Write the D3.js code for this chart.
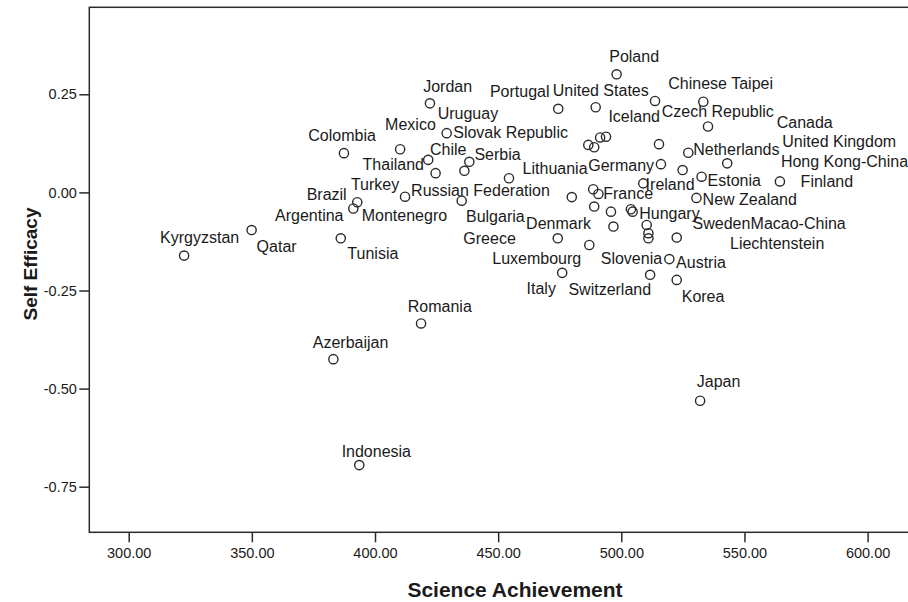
<!DOCTYPE html>
<html>
<head>
<meta charset="utf-8">
<script src="https://cdn.jsdelivr.net/npm/d3@7"></script>
<style>
  html, body { margin: 0; padding: 0; background: #fff; }
  svg { display: block; }
  text { font-family: "Liberation Sans", Arial, sans-serif; fill: #1a1a1a; }
</style>
</head>
<body>
<svg id="chart" width="908" height="602"></svg>
<script>
// ---- data ----
const countries = ["Kyrgyzstan","Qatar","Azerbaijan","Tunisia","Colombia","Brazil","Argentina","Indonesia",
  "Mexico","Montenegro","Romania","Thailand","Jordan","Turkey","Uruguay","Bulgaria","Serbia","Chile",
  "Israel","Greece","Portugal","Italy","Russian Federation","Luxembourg","Norway","Slovak Republic","Spain",
  "Lithuania","United States","Latvia","Iceland","Croatia","France","Denmark","Poland","Sweden","Hungary",
  "Ireland","Belgium","Austria","Macao-China","Switzerland","Czech Republic","United Kingdom","Germany",
  "Slovenia","Korea","Liechtenstein","Netherlands","Australia","New Zealand","Japan","Estonia",
  "Chinese Taipei","Canada","Hong Kong-China","Finland"];
const science = [322.5,349.9,383.1,386.1,387.4,392.8,391.2,393.6,
  410.2,412.2,418.7,421.6,422.3,424.6,429.1,435.2,436.3,438.3,
  454.4,474.2,474.4,476.0,479.9,487.0,486.6,489.0,489.0,
  488.6,489.6,490.7,491.4,493.8,495.8,496.8,498.1,503.9,504.6,
  508.9,510.3,511.0,511.0,511.7,513.7,515.3,516.1,
  519.5,522.5,522.5,524.9,527.2,530.5,532.0,532.6,
  533.3,535.2,543.0,564.4];
const efficacy = [-0.161,-0.096,-0.425,-0.117,0.100,-0.025,-0.041,-0.695,
  0.110,-0.011,-0.334,0.083,0.227,0.049,0.151,-0.021,0.055,0.078,
  0.036,-0.117,0.213,-0.205,-0.012,-0.134,0.121,0.115,-0.036,
  0.008,0.217,-0.004,0.140,0.142,-0.049,-0.087,0.301,-0.043,-0.049,
  0.023,-0.083,-0.104,-0.117,-0.210,0.233,0.123,0.072,
  -0.170,-0.223,-0.115,0.057,0.101,-0.014,-0.531,0.040,
  0.231,0.168,0.074,0.028];
const xTicks = [300, 350, 400, 450, 500, 550, 600];
const yTicks = [0.25, 0.00, -0.25, -0.50, -0.75];
const xTitle = "Science Achievement";
const yTitle = "Self Efficacy";

// ---- layout: label offsets (px) from each labelled point ----
const labelOffsets = {
  "Kyrgyzstan":[-24,-18.4], "Qatar":[5,16.7], "Azerbaijan":[-20.6,-16.6], "Tunisia":[6.6,15],
  "Colombia":[-35.7,-17.3], "Brazil":[-50.6,-8], "Argentina":[-78.3,7.4], "Indonesia":[-17.6,-13.3],
  "Mexico":[-15,-25.3], "Montenegro":[-43.3,18.3], "Romania":[-13.3,-17.3], "Thailand":[-65.6,5],
  "Jordan":[-6.7,-17.3], "Turkey":[-84.7,11.7], "Uruguay":[-9,-20], "Bulgaria":[4.3,16],
  "Serbia":[10,-16.4], "Chile":[-39.3,-12.4], "Greece":[-94.4,0], "Portugal":[-68.3,-17.3],
  "Italy":[-35.6,15.6], "Russian Federation":[-160.7,-6.3], "Luxembourg":[-97,13.3],
  "Slovak Republic":[-141,-14.6], "Lithuania":[-70.6,-21], "United States":[-43,-17.3],
  "Iceland":[8.3,-21.3], "France":[-7.7,-18.4], "Denmark":[-87.3,-2.7], "Poland":[-7.4,-18.3],
  "Sweden":[61.7,14], "Hungary":[6.6,1.6], "Ireland":[2.4,0.7], "Austria":[27.7,29.4],
  "Macao-China":[102.2,-15], "Switzerland":[-81.7,15], "Czech Republic":[6.7,10.5],
  "United Kingdom":[123.3,-2.6], "Germany":[-72.7,1], "Slovenia":[-68.6,-0.3], "Korea":[5,16],
  "Liechtenstein":[53.3,5.6], "Netherlands":[10.6,-21], "New Zealand":[6.2,1.3], "Japan":[-3.3,-19],
  "Estonia":[6,3.3], "Chinese Taipei":[-35,-18.4], "Canada":[68.7,-3.8], "Hong Kong-China":[53.7,-1.6],
  "Finland":[20.7,-0.5]
};

const points = countries.map((c, i) => ({ name: c, x: science[i], y: efficacy[i] }));

// ---- scales ----
const plot = { left: 89.3, top: 7.3, right: 909, bottom: 532.3 };
const x = d3.scaleLinear().domain([300, 600]).range([128.7, 867.6]);
const y = d3.scaleLinear().domain([0.25, -0.75]).range([94.3, 486.7]);

const svg = d3.select("#chart");

// frame
svg.append("rect")
  .attr("x", plot.left).attr("y", plot.top)
  .attr("width", plot.right - plot.left).attr("height", plot.bottom - plot.top)
  .attr("fill", "none").attr("stroke", "#2a2a2a").attr("stroke-width", 1.5);

// axes
const fmt = d => d.toFixed(2);
const xAxis = svg.append("g").attr("transform", `translate(0,${plot.bottom})`)
  .call(d3.axisBottom(x).tickValues(xTicks).tickFormat(fmt).tickSize(10).tickPadding(5).tickSizeOuter(0));
const yAxis = svg.append("g").attr("transform", `translate(${plot.left},0)`)
  .call(d3.axisLeft(y).tickValues(yTicks).tickFormat(fmt).tickSize(10).tickPadding(2.5).tickSizeOuter(0));
[xAxis, yAxis].forEach(g => {
  g.select(".domain").remove();
  g.selectAll(".tick line").attr("stroke", "#2a2a2a").attr("stroke-width", 1.5);
  g.selectAll(".tick text").attr("font-family", "Liberation Sans, Arial, sans-serif")
    .attr("font-size", 14.5).attr("fill", "#1a1a1a");
});

// axis titles
svg.append("text").attr("x", 515).attr("y", 597).attr("text-anchor", "middle")
  .attr("font-size", 21).attr("font-weight", "bold").text(xTitle);
svg.append("text").attr("transform", "translate(37,264) rotate(-90)").attr("text-anchor", "middle")
  .attr("font-size", 19).attr("font-weight", "bold").text(yTitle);

// points
svg.append("g").selectAll("circle").data(points).join("circle")
  .attr("cx", d => x(d.x)).attr("cy", d => y(d.y)).attr("r", 4.6)
  .attr("fill", "none").attr("stroke", "#2a2a2a").attr("stroke-width", 1.4);

// labels
svg.append("g").selectAll("text").data(points.filter(d => labelOffsets[d.name])).join("text")
  .attr("x", d => x(d.x) + labelOffsets[d.name][0])
  .attr("y", d => y(d.y) + labelOffsets[d.name][1])
  .attr("dy", "0.35em").attr("font-size", 16).text(d => d.name);
</script>
</body>
</html>
